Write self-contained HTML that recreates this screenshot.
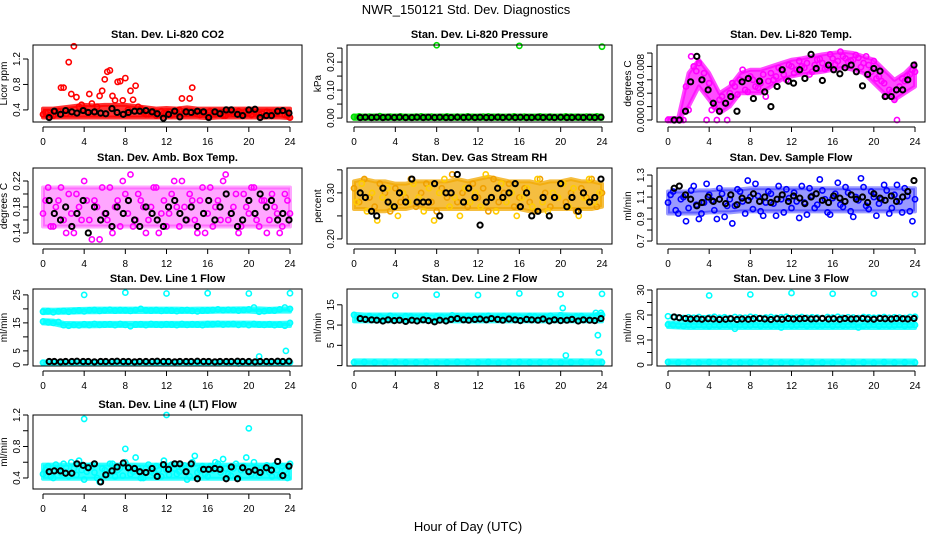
<!DOCTYPE html>
<html><head><meta charset="utf-8"><style>
html,body{margin:0;padding:0;background:#fff;}
svg{display:block;font-family:"Liberation Sans",sans-serif;}
</style></head><body>
<svg id="chart" width="936" height="540" viewBox="0 0 936 540">
<rect x="0" y="0" width="936" height="540" fill="#fff"/>
<text x="466" y="14" text-anchor="middle" font-size="13">NWR_150121  Std. Dev. Diagnostics</text>
<text x="468" y="531" text-anchor="middle" font-size="13">Hour of Day (UTC)</text>
</svg>
<script>
// ---- hours (categories) ----
const H49=[0,0.5,1,1.5,2,2.5,3,3.5,4,4.5,5,5.5,6,6.5,7,7.5,8,8.5,9,9.5,10,10.5,11,11.5,12,12.5,13,13.5,14,14.5,15,15.5,16,16.5,17,17.5,18,18.5,19,19.5,20,20.5,21,21.5,22,22.5,23,23.5,24];
const H48=[0.25,0.75,1.25,1.75,2.25,2.75,3.25,3.75,4.25,4.75,5.25,5.75,6.25,6.75,7.25,7.75,8.25,8.75,9.25,9.75,10.25,10.75,11.25,11.75,12.25,12.75,13.25,13.75,14.25,14.75,15.25,15.75,16.25,16.75,17.25,17.75,18.25,18.75,19.25,19.75,20.25,20.75,21.25,21.75,22.25,22.75,23.25,23.75];
const H25=[0,1,2,3,4,5,6,7,8,9,10,11,12,13,14,15,16,17,18,19,20,21,22,23,24];
const BH=[0.6,1.1,1.7,2.2,2.8,3.3,3.9,4.4,5.0,5.6,6.1,6.7,7.2,7.8,8.3,8.9,9.4,10.0,10.6,11.1,11.7,12.2,12.8,13.3,13.9,14.4,15.0,15.6,16.1,16.7,17.2,17.8,18.3,18.9,19.4,20.0,20.6,21.1,21.7,22.2,22.8,23.3,23.9];
const xTicks=[0,4,8,12,16,20,24];

// ---- P1 CO2 ----
const co2A=[0.33,0.36,0.31,0.38,0.75,1.15,1.40,0.45,0.40,0.65,0.36,0.62,0.88,1.02,0.55,0.85,0.90,0.70,0.78,0.42,0.33,0.36,0.31,0.38,0.35,0.32,0.37,0.58,0.34,0.75,0.33,0.36,0.30,0.37,0.35,0.31,0.36,0.34,0.38,0.32,0.35,0.37,0.33,0.30,0.36,0.34,0.38,0.32,0.28];
const co2B=[0.36,0.32,0.38,0.75,0.34,0.65,0.60,0.48,0.37,0.50,0.45,0.70,1.00,0.62,0.84,0.55,0.40,0.56,0.45,0.36,0.33,0.38,0.32,0.35,0.37,0.33,0.40,0.34,0.58,0.36,0.32,0.35,0.38,0.33,0.36,0.31,0.37,0.34,0.35,0.38,0.32,0.36,0.34,0.37,0.33,0.35,0.38,0.31];
const co2Lo=[0.28,0.28,0.28,0.28,0.28,0.28,0.28,0.28,0.28,0.28,0.28,0.28,0.28,0.28,0.28,0.28,0.27,0.28,0.28,0.28,0.28,0.28,0.28,0.28,0.27];
const co2Hi=[0.42,0.42,0.44,0.46,0.48,0.47,0.48,0.48,0.48,0.46,0.44,0.42,0.43,0.42,0.44,0.42,0.42,0.42,0.42,0.42,0.42,0.42,0.42,0.42,0.42];
const co2K=[0.28,0.38,0.33,0.39,0.37,0.35,0.39,0.36,0.37,0.35,0.34,0.42,0.36,0.33,0.36,0.38,0.38,0.39,0.37,0.34,0.27,0.33,0.38,0.29,0.37,0.36,0.38,0.37,0.28,0.37,0.34,0.40,0.40,0.33,0.31,0.40,0.41,0.28,0.31,0.31,0.38,0.39,0.35];
const co2Ticks=[0.4,0.8,1.2];
// ---- P2 Pressure ----
const prA=[0.004,0.006,0.003,0.005,0.004,0.007,0.003,0.005,0.004,0.006,0.004,0.003,0.005,0.006,0.004,0.005,0.260,0.004,0.006,0.003,0.005,0.004,0.006,0.004,0.003,0.005,0.006,0.004,0.005,0.003,0.004,0.006,0.258,0.005,0.004,0.003,0.006,0.004,0.005,0.003,0.004,0.006,0.005,0.004,0.003,0.005,0.004,0.006,0.255];
const prLo=[-0.003,-0.003,-0.003,-0.003,-0.003,-0.003,-0.003,-0.003,-0.003,-0.003,-0.003,-0.003,-0.003,-0.003,-0.003,-0.003,-0.003,-0.003,-0.003,-0.003,-0.003,-0.003,-0.003,-0.003,-0.003];
const prHi=[0.009,0.009,0.009,0.009,0.009,0.009,0.009,0.009,0.009,0.009,0.009,0.009,0.009,0.009,0.009,0.009,0.009,0.009,0.009,0.009,0.009,0.009,0.009,0.009,0.009];
const prK=[0.002,0.003,0.002,0.003,0.002,0.003,0.002,0.003,0.002,0.002,0.003,0.002,0.003,0.002,0.003,0.002,0.002,0.003,0.002,0.003,0.002,0.003,0.002,0.002,0.003,0.002,0.003,0.002,0.003,0.002,0.002,0.003,0.002,0.003,0.002,0.003,0.002,0.002,0.003,0.002,0.003,0.002,0.003];
const prTicks=[0.00,0.05,0.10,0.15,0.20,0.25];
const prLabels=["0.00","","0.10","","0.20",""];
// ---- P3 Temp ----
const tA=[0,0,0,0,0.0015,0.008,0.0085,0.007,0.0055,0.002,0.003,0.0025,0.004,0.005,0.006,0.0045,0.0065,0.005,0.0055,0.0035,0.007,0.0065,0.0075,0.006,0.008,0.0075,0.008,0.0085,0.0072,0.009,0.0085,0.0078,0.0092,0.0088,0.0095,0.0087,0.009,0.0093,0.0085,0.0082,0.0088,0.0065,0.0055,0.0045,0.003,0.005,0.0058,0.0068,0.0072];
const tB=[0,0,0,0.005,0.0095,0.0073,0.006,0,0.0015,0,0.0035,0,0.0055,0.0038,0.0075,0.0042,0.006,0.0048,0.0068,0.0058,0.006,0.0078,0.0068,0.0082,0.007,0.0088,0.0078,0.0068,0.0082,0.0091,0.0076,0.0098,0.0083,0.0102,0.0092,0.0089,0.0097,0.0079,0.0095,0.0072,0.0062,0.0058,0.0036,0.0042,0,0.0062,0.0066,0.0075];
const tLo=[0,0,0.002,0.005,0.003,0.001,0.002,0.004,0.004,0.004,0.005,0.006,0.0065,0.0068,0.007,0.0072,0.0075,0.0078,0.0075,0.007,0.0055,0.004,0.003,0.004,0.005];
const tHi=[0.0003,0.0003,0.007,0.009,0.007,0.004,0.005,0.007,0.0075,0.0075,0.008,0.0085,0.009,0.0092,0.0095,0.0098,0.01,0.0102,0.01,0.0095,0.009,0.0075,0.006,0.007,0.0085];
const tK=[0,0,0.0013,0.0057,0.0095,0.006,0.0045,0.0025,0.0013,0.0025,0.0035,0.0013,0.0057,0.0062,0.0032,0.0058,0.0042,0.002,0.005,0.0075,0.0058,0.0055,0.0075,0.0062,0.0098,0.0077,0.0059,0.0082,0.0075,0.0069,0.0078,0.0082,0.0072,0.0051,0.0068,0.0077,0.0073,0.0035,0.0035,0.0045,0.0045,0.006,0.0082];
const tTicks=[0,0.002,0.004,0.006,0.008,0.010];
const tLabels=["0.000","","0.004","","0.008",""];
// ---- P4 Amb box ----
const abA=[0.17,0.21,0.15,0.19,0.16,0.20,0.14,0.18,0.22,0.16,0.19,0.13,0.17,0.21,0.18,0.15,0.20,0.23,0.16,0.19,0.14,0.18,0.21,0.17,0.15,0.20,0.18,0.22,0.16,0.19,0.14,0.21,0.17,0.15,0.19,0.22,0.16,0.18,0.14,0.20,0.17,0.21,0.15,0.19,0.16,0.18,0.14,0.20,0.17];
const abB=[0.19,0.15,0.18,0.21,0.14,0.17,0.20,0.16,0.19,0.13,0.18,0.21,0.16,0.14,0.19,0.22,0.17,0.15,0.20,0.18,0.16,0.21,0.14,0.19,0.17,0.22,0.15,0.18,0.20,0.16,0.19,0.14,0.21,0.18,0.16,0.23,0.17,0.20,0.15,0.18,0.21,0.16,0.19,0.14,0.20,0.17,0.15,0.19];
const abLo=[0.15,0.15,0.15,0.15,0.15,0.15,0.15,0.15,0.15,0.15,0.15,0.15,0.15,0.15,0.15,0.15,0.15,0.15,0.15,0.15,0.15,0.15,0.15,0.15,0.15];
const abHi=[0.21,0.21,0.21,0.21,0.21,0.21,0.21,0.21,0.21,0.21,0.21,0.21,0.21,0.21,0.21,0.21,0.21,0.21,0.21,0.21,0.21,0.21,0.21,0.21,0.21];
const abK=[0.19,0.17,0.16,0.18,0.15,0.17,0.19,0.14,0.18,0.16,0.17,0.15,0.18,0.17,0.19,0.16,0.15,0.18,0.17,0.16,0.15,0.18,0.19,0.17,0.16,0.18,0.15,0.17,0.19,0.16,0.18,0.20,0.17,0.15,0.16,0.19,0.17,0.20,0.18,0.19,0.16,0.17,0.16];
const abTicks=[0.14,0.16,0.18,0.20,0.22];
const abLabels=["0.14","","0.18","","0.22"];
// ---- P5 RH ----
const rhA=[0.31,0.28,0.33,0.29,0.27,0.32,0.30,0.26,0.31,0.28,0.29,0.33,0.27,0.30,0.32,0.28,0.26,0.31,0.29,0.34,0.28,0.30,0.27,0.32,0.29,0.31,0.26,0.33,0.28,0.30,0.32,0.27,0.29,0.31,0.28,0.26,0.33,0.30,0.27,0.29,0.32,0.28,0.30,0.26,0.31,0.29,0.33,0.27,0.30];
const rhB=[0.28,0.32,0.26,0.30,0.24,0.29,0.31,0.27,0.25,0.30,0.28,0.32,0.29,0.26,0.31,0.24,0.30,0.33,0.27,0.29,0.25,0.31,0.28,0.30,0.27,0.34,0.29,0.26,0.32,0.28,0.30,0.25,0.29,0.31,0.27,0.33,0.28,0.26,0.30,0.29,0.32,0.27,0.31,0.25,0.29,0.33,0.28,0.30];
const rhLo=[0.265,0.265,0.26,0.26,0.265,0.265,0.27,0.265,0.265,0.265,0.265,0.265,0.265,0.265,0.265,0.265,0.265,0.26,0.26,0.265,0.265,0.265,0.265,0.265,0.27];
const rhHi=[0.325,0.33,0.325,0.325,0.32,0.32,0.325,0.325,0.325,0.325,0.33,0.325,0.33,0.335,0.33,0.325,0.325,0.325,0.32,0.325,0.325,0.33,0.325,0.325,0.32];
const rhK=[0.30,0.29,0.26,0.25,0.31,0.28,0.27,0.30,0.28,0.33,0.28,0.28,0.28,0.32,0.25,0.30,0.30,0.34,0.28,0.31,0.29,0.23,0.28,0.29,0.31,0.29,0.30,0.32,0.27,0.30,0.25,0.26,0.29,0.25,0.29,0.32,0.27,0.29,0.26,0.30,0.28,0.29,0.33];
const rhTicks=[0.20,0.25,0.30,0.35];
const rhLabels=["0.20","","0.30",""];
// ---- P6 Sample flow ----
const sfA=[1.05,1.15,0.95,1.10,1.00,1.20,0.90,1.05,1.12,0.98,1.18,0.92,1.08,1.02,1.15,0.95,1.10,1.22,0.97,1.05,1.13,0.93,1.08,1.17,1.00,1.06,1.20,0.94,1.11,1.03,1.16,0.96,1.09,1.23,1.01,1.14,0.92,1.07,1.19,0.99,1.10,1.04,1.21,0.95,1.12,1.06,1.18,0.97,1.08];
const sfB=[1.12,0.98,1.08,0.88,1.16,1.03,0.95,1.22,1.07,0.90,1.13,1.02,0.86,1.17,1.06,1.25,0.99,1.11,0.93,1.15,1.04,1.20,0.96,1.09,1.14,0.91,1.05,1.18,1.00,1.26,1.08,0.94,1.13,1.03,1.19,0.97,1.10,1.27,1.02,1.15,0.93,1.08,1.16,1.00,1.21,0.96,1.11,0.88];
const sfLo=[0.95,0.95,0.95,0.95,0.96,0.96,0.96,0.97,0.97,0.97,0.97,0.97,0.97,0.97,0.97,0.97,0.97,0.97,0.97,0.97,0.97,0.97,0.97,0.97,0.97];
const sfHi=[1.15,1.15,1.15,1.16,1.16,1.17,1.17,1.17,1.18,1.18,1.18,1.18,1.18,1.18,1.18,1.18,1.18,1.18,1.18,1.18,1.18,1.18,1.18,1.18,1.18];
const sfK=[1.18,1.20,1.12,1.08,1.02,1.05,1.10,1.06,1.08,1.04,1.12,1.03,1.09,1.07,1.13,1.06,1.10,1.05,1.08,1.12,1.06,1.11,1.09,1.04,1.10,1.13,1.07,1.05,1.11,1.09,1.06,1.12,1.08,1.10,1.05,1.13,1.09,1.07,1.11,1.06,1.10,1.15,1.25];
const sfTicks=[0.7,0.8,0.9,1.0,1.1,1.2,1.3];
const sfLabels=["0.7","","0.9","","1.1","","1.3"];
// ---- P7 Line 1 ----
const l1Up=[19.0,19.2,18.8,19.1,19.3,19.0,19.2,19.4,19.1,19.5,19.6,19.3,19.5,19.7,19.4,19.6,19.5,19.3,19.6,20.0,19.5,19.4,19.6,19.3,19.5,19.4,19.2,19.5,19.6,19.3,19.1,19.4,19.5,19.6,19.8,19.5,19.7,19.6,19.4,19.6,19.8,20.5,19.0,19.2,19.5,19.4,19.8,20.5,20.0];
const l1Mid=[15.5,15.2,15.0,15.3,14.2,14.0,14.3,14.1,14.5,14.2,14.6,14.3,14.4,14.5,14.2,14.6,14.3,13.8,14.4,14.5,14.2,14.6,14.4,14.3,14.5,14.4,14.2,14.6,14.3,14.5,14.4,14.2,14.6,14.5,14.7,14.4,14.5,14.6,14.3,14.5,14.2,14.6,14.4,14.3,14.5,14.2,14.4,14.0,15.0];
const l1UpLo=[18.5,18.6,18.6,18.7,18.8,18.8,18.9,18.9,18.9,18.9,18.9,18.9,18.9,18.9,18.9,18.9,18.9,19.0,19.0,19.0,19.0,18.8,18.9,19.0,19.0];
const l1UpHi=[19.8,19.7,19.8,19.9,20.0,20.1,20.1,20.1,20.1,20.1,20.1,20.1,20.1,20.1,20.0,20.1,20.1,20.1,20.1,20.2,20.2,20.2,20.0,20.2,20.2];
const l1MidLo=[14.8,14.6,13.8,13.8,13.8,13.8,13.9,13.9,13.9,13.9,13.9,13.9,13.9,13.9,13.9,13.9,13.9,14.0,14.0,14.0,14.0,13.9,13.9,13.9,13.9];
const l1MidHi=[16.0,15.8,15.0,14.9,14.9,15.0,15.0,15.0,15.0,15.0,15.0,15.0,15.0,15.0,15.0,15.0,15.1,15.1,15.1,15.1,15.1,15.0,15.0,15.0,15.1];
const l1LowLo=[0.4,0.4,0.4,0.4,0.4,0.4,0.4,0.4,0.4,0.4,0.4,0.4,0.4,0.4,0.4,0.4,0.4,0.4,0.4,0.4,0.4,0.4,0.4,0.4,0.4];
const l1LowHi=[1.2,1.2,1.2,1.2,1.2,1.2,1.2,1.2,1.2,1.2,1.2,1.2,1.2,1.2,1.2,1.2,1.2,1.2,1.2,1.2,1.2,1.2,1.2,1.2,1.2];
const l1Low=[0.8,0.9,0.7,0.8,0.9,0.8,0.7,0.9,0.8,0.8,0.9,0.7,0.8,0.9,0.8,0.7,0.8,0.9,0.8,0.5,0.8,3.0,0.9,0.8,0.9];
const l1K=[1.2,1.2,1.1,1.2,1.2,1.3,1.2,1.2,1.1,1.2,1.2,1.2,1.3,1.2,1.2,1.1,1.2,1.2,1.2,1.3,1.2,1.2,1.1,1.2,1.2,1.2,1.3,1.2,1.2,1.1,1.2,1.2,1.2,1.3,1.2,1.2,1.1,1.2,1.2,1.2,1.3,1.2,1.3];
const l1OutH=[4,8,12,16,20,23.6,24];
const l1Out=[25.0,25.8,25.5,25.6,25.5,5.0,25.6];
const l1Ticks=[0,5,10,15,20,25];
const l1Labels=["0","5","","15","","25"];
// ---- P8 Line 2 ----
const l2Up=[12.5,12.0,11.8,12.2,11.9,12.1,11.7,12.3,12.0,11.8,12.2,12.1,11.9,12.0,12.3,11.8,12.1,12.0,11.9,12.4,12.1,11.8,12.2,12.0,11.9,12.1,12.3,11.8,12.0,12.2,11.9,12.1,12.0,11.8,12.2,12.1,11.9,12.0,12.3,11.8,12.4,12.0,11.9,12.1,12.2,11.8,12.0,12.3,12.5];
const l2UpLo=[10.9,10.9,10.9,10.9,10.9,10.9,10.9,10.9,10.9,10.9,10.9,10.9,10.9,10.9,10.9,10.9,10.9,10.9,10.9,10.9,10.9,10.9,10.9,10.9,10.9];
const l2UpHi=[12.8,12.6,12.6,12.6,12.6,12.6,12.6,12.6,12.6,12.6,12.6,12.6,12.6,12.6,12.6,12.6,12.6,12.6,12.6,12.6,12.7,12.6,12.6,12.6,12.8];
const l2Low=[0.8,0.9,0.8,0.7,0.9,0.8,0.8,0.9,0.7,0.8,0.9,0.8,0.8,0.9,0.7,0.8,0.9,0.8,0.8,0.9,0.7,0.8,0.9,0.8,0.8];
const l2LowLo=[0.3,0.3,0.3,0.3,0.3,0.3,0.3,0.3,0.3,0.3,0.3,0.3,0.3,0.3,0.3,0.3,0.3,0.3,0.3,0.3,0.3,0.3,0.3,0.3,0.3];
const l2LowHi=[1.3,1.3,1.3,1.3,1.3,1.3,1.3,1.3,1.3,1.3,1.3,1.3,1.3,1.3,1.3,1.3,1.3,1.3,1.3,1.3,1.3,1.3,1.3,1.3,1.3];
const l2K=[11.6,11.4,11.3,11.2,11.0,11.3,11.1,11.2,10.9,11.2,11.0,11.3,11.1,10.8,11.2,11.0,11.4,11.6,11.3,11.2,11.4,11.5,11.3,11.6,11.4,11.2,11.5,11.3,11.1,11.4,11.3,11.2,11.5,11.0,11.3,11.1,11.2,11.4,11.0,11.3,11.2,11.1,11.6];
const l2OutH=[4,8,12,16,20,20.2,20.5,23.4,23.6,23.7,23.9,24];
const l2Out=[17.3,17.5,17.4,17.8,17.6,14.2,2.5,13.0,7.5,3.2,13.0,17.7];
const l2Ticks=[0,5,10,15];
const l2Labels=["","5","10","15"];
// ---- P9 Line 3 ----
const l3Up=[19.5,19.2,19.0,18.8,19.1,18.9,19.2,18.7,19.0,19.3,18.9,19.1,18.8,19.2,19.0,18.9,19.3,19.1,18.8,19.0,19.2,18.9,19.1,19.3,18.8,19.0,19.2,18.9,19.1,19.0,18.8,19.2,19.0,19.3,18.9,19.1,19.0,18.8,19.2,19.1,18.9,19.0,19.2,18.9,19.1,19.0,18.8,19.2,19.3];
const l3Mid=[16.2,16.0,15.8,15.6,15.9,15.7,16.0,15.8,15.5,15.9,15.7,16.0,15.8,14.5,15.9,15.7,15.8,16.0,15.6,15.9,15.7,15.8,15.0,15.9,15.7,15.8,16.0,15.6,15.9,15.7,15.8,16.0,15.6,15.9,15.7,15.8,15.9,15.0,15.7,15.8,16.0,15.6,15.9,15.7,15.8,16.0,15.6,15.9,16.0];
const l3MidLo=[15.2,15.0,14.8,14.8,14.8,14.8,14.8,14.8,14.8,14.8,14.8,14.8,14.8,14.8,14.8,14.8,14.8,14.8,14.8,14.8,14.8,14.8,14.8,14.8,14.8];
const l3MidHi=[17.0,16.8,16.6,16.6,16.6,16.6,16.6,16.6,16.6,16.6,16.6,16.6,16.6,16.6,16.6,16.6,16.6,16.6,16.6,16.6,16.6,16.6,16.6,16.6,16.6];
const l3Low=[1.2,1.0,1.1,0.9,1.2,1.0,1.1,0.9,1.0,1.2,1.1,0.9,1.0,1.2,1.1,1.0,0.9,1.2,1.0,1.1,0.9,1.2,1.0,1.1,1.0];
const l3LowLo=[0.4,0.4,0.4,0.4,0.4,0.4,0.4,0.4,0.4,0.4,0.4,0.4,0.4,0.4,0.4,0.4,0.4,0.4,0.4,0.4,0.4,0.4,0.4,0.4,0.4];
const l3LowHi=[1.8,1.8,1.8,1.8,1.8,1.8,1.8,1.8,1.8,1.8,1.8,1.8,1.8,1.8,1.8,1.8,1.8,1.8,1.8,1.8,1.8,1.8,1.8,1.8,1.8];
const l3K=[19.2,18.9,18.6,18.4,18.5,18.3,18.5,18.4,18.2,18.3,18.5,18.2,18.4,18.3,18.5,18.6,18.4,18.2,18.5,18.3,18.6,18.4,18.5,18.6,18.4,18.5,18.6,18.4,18.5,18.3,18.6,18.4,18.5,18.6,18.4,18.3,18.6,18.5,18.4,18.6,18.5,18.4,18.6];
const l3OutH=[4,8,12,16,20,24];
const l3Out=[27.8,28.2,28.8,28.5,28.6,28.3];
const l3Ticks=[0,5,10,15,20,25,30];
const l3Labels=["0","","10","","20","","30"];
// ---- P10 Line 4 ----
const l4A=[0.45,0.55,0.40,0.50,0.58,0.42,0.52,0.62,0.38,0.55,0.47,0.35,0.50,0.58,0.42,0.53,0.60,0.45,0.66,0.40,0.52,0.48,0.55,0.42,0.50,0.57,0.45,0.53,0.38,0.60,0.47,0.55,0.42,0.50,0.58,0.64,0.45,0.52,0.40,0.55,0.48,0.60,0.43,0.52,0.47,0.56,0.42,0.50,0.58];
const l4B=[0.50,0.42,0.57,0.46,0.53,0.60,0.44,0.50,0.48,0.56,0.40,0.52,0.45,0.58,0.50,0.43,0.55,0.48,0.52,0.40,0.57,0.46,0.50,0.62,0.44,0.52,0.48,0.56,0.42,0.68,0.50,0.45,0.55,0.60,0.47,0.52,0.43,0.58,0.50,0.66,0.45,0.53,0.48,0.56,0.42,0.50,0.55,0.40];
const l4Lo=[0.39,0.39,0.39,0.39,0.39,0.39,0.39,0.39,0.39,0.39,0.39,0.39,0.39,0.39,0.39,0.39,0.39,0.39,0.39,0.39,0.39,0.39,0.39,0.39,0.39];
const l4Hi=[0.57,0.57,0.57,0.57,0.57,0.57,0.57,0.57,0.57,0.57,0.57,0.57,0.57,0.57,0.57,0.57,0.57,0.57,0.57,0.57,0.57,0.57,0.57,0.57,0.57];
const l4K=[0.48,0.49,0.49,0.46,0.46,0.58,0.56,0.53,0.58,0.35,0.44,0.49,0.54,0.59,0.53,0.52,0.48,0.47,0.52,0.42,0.57,0.51,0.58,0.58,0.48,0.58,0.39,0.51,0.51,0.52,0.51,0.39,0.54,0.39,0.53,0.48,0.50,0.47,0.53,0.50,0.61,0.43,0.55];
const l4OutH=[4,8,12,20];
const l4Out=[1.15,0.77,1.20,1.03];
const l4Ticks=[0.4,0.6,0.8,1.0,1.2];
const l4Labels=["0.4","","0.8","","1.2"];

const NS="http://www.w3.org/2000/svg";
const svg=document.getElementById('chart');
function mk(tag,attrs,parent){const e=document.createElementNS(NS,tag);for(const k in attrs)e.setAttribute(k,attrs[k]);parent.appendChild(e);return e;}

const COLS=[{x0:43,x24:290,l:33,r:302},{x0:354,x24:602,l:347,r:612},{x0:668,x24:915,l:657,r:925}];
const ROWS=[{t:45,b:122},{t:168,b:244},{t:289,b:366},{t:415,b:489}];

function panel(p){
  const c=COLS[p.col],rw=ROWS[p.row];
  const g=mk('g',{},svg);
  
  
  const xs=h=>c.x0+(c.x24-c.x0)*h/24;
  const ys=v=>rw.b-(v-p.ymin)/(p.ymax-p.ymin)*(rw.b-rw.t);
  const tt=mk('text',{x:(c.l+c.r)/2,y:rw.t-7,'text-anchor':'middle','font-size':11,'font-weight':'bold'},g);
  tt.textContent=p.title;
  
  
  const xa=mk('g',{},g);
  
  
  mk('line',{x1:xs(0),x2:xs(24),y1:rw.b+5,y2:rw.b+5,stroke:'#000'},xa);
  xTicks.forEach(t=>{
    mk('line',{x1:xs(t),x2:xs(t),y1:rw.b+5,y2:rw.b+10,stroke:'#000'},xa);
    const tx=mk('text',{x:xs(t),y:rw.b+23,'text-anchor':'middle','font-size':10},xa);
    tx.textContent=String(t);
    
    
  });
  const ya=mk('g',{},g);
  
  
  const ax=c.l-5;
  mk('line',{x1:ax,x2:ax,y1:ys(p.ticks[0]),y2:ys(p.ticks[p.ticks.length-1]),stroke:'#000'},ya);
  p.ticks.forEach((t,i)=>{
    const y=ys(t);
    mk('line',{x1:ax,x2:ax-5,y1:y,y2:y,stroke:'#000'},ya);
    const lab=p.labels?p.labels[i]:String(t);
    if(lab){
      const tx=mk('text',{x:ax-8,y:y,'text-anchor':'middle','font-size':10,transform:`rotate(-90 ${ax-8} ${y})`},ya);
      tx.textContent=lab;
      
      
    }
  });
  const yl=mk('text',{x:c.l-26,y:(rw.t+rw.b)/2,'text-anchor':'middle','font-size':10,transform:`rotate(-90 ${c.l-26} ${(rw.t+rw.b)/2})`},g);
  yl.textContent=p.ylab;
  
  
  (p.bands||[]).forEach(b=>{
    let d='';
    H25.forEach((h,i)=>{d+=(i?'L':'M')+xs(h)+','+ys(b.hi[i]);});
    for(let i=H25.length-1;i>=0;i--){d+='L'+xs(H25[i])+','+ys(b.lo[i]);}
    d+='Z';
    const op=b.op||0.8;
    const pa=mk('path',{d:d,fill:b.color,'fill-opacity':op,stroke:b.color,'stroke-width':4,'stroke-opacity':op,'stroke-linejoin':'round'},g);
    
    
  });
  p.series.forEach(s=>{
    const sg=mk('g',{fill:'none',stroke:s.color,'stroke-width':s.w||1.6},g);
    
    
    s.y.forEach((v,i)=>{
      const cc=mk('circle',{cx:xs(s.x[i]),cy:ys(v),r:2.6},sg);
      
      
    });
  });
  const box=mk('rect',{x:c.l,y:rw.t,width:c.r-c.l,height:rw.b-rw.t,fill:'none',stroke:'#000','stroke-width':1},g);
  
  
}

panel({name:'panel-co2',col:0,row:0,title:'Stan. Dev. Li-820 CO2',ylab:'Licor ppm',ymin:0.21,ymax:1.42,ticks:co2Ticks,labels:["0.4","0.8","1.2"],
 bands:[{name:'co2-cloud',lo:co2Lo,hi:co2Hi,color:'#ff0000'}],
 series:[{name:'co2-series-a',x:H49,y:co2A,color:'#ff0000'},{name:'co2-series-b',x:H48,y:co2B,color:'#ff0000'},{name:'co2-black',x:BH,y:co2K,color:'#000',w:2}]});
panel({name:'panel-pressure',col:1,row:0,title:'Stan. Dev. Li-820 Pressure',ylab:'kPa',ymin:-0.014,ymax:0.261,ticks:prTicks,labels:prLabels,
 bands:[{name:'pressure-cloud',lo:prLo,hi:prHi,color:'#00dd00'}],
 series:[{name:'pressure-green',x:H49,y:prA,color:'#00dd00'},{name:'pressure-black',x:BH,y:prK,color:'#000',w:2}]});
panel({name:'panel-temp',col:2,row:0,title:'Stan. Dev. Li-820 Temp.',ylab:'degrees C',ymin:-0.0003,ymax:0.0112,ticks:tTicks,labels:tLabels,
 bands:[{name:'temp-cloud',lo:tLo,hi:tHi,color:'#ff00ff',op:0.7}],
 series:[{name:'temp-series-a',x:H49,y:tA,color:'#ff00ff'},{name:'temp-series-b',x:H48,y:tB,color:'#ff00ff'},{name:'temp-black',x:BH,y:tK,color:'#000',w:2}]});
panel({name:'panel-ambbox',col:0,row:1,title:'Stan. Dev. Amb. Box Temp.',ylab:'degrees C',ymin:0.123,ymax:0.24,ticks:abTicks,labels:abLabels,
 bands:[{name:'ambbox-cloud',lo:abLo,hi:abHi,color:'#ff00ff',op:0.35}],
 series:[{name:'ambbox-series-a',x:H49,y:abA,color:'#ff00ff'},{name:'ambbox-series-b',x:H48,y:abB,color:'#ff00ff'},{name:'ambbox-black',x:BH,y:abK,color:'#000',w:2}]});
panel({name:'panel-rh',col:1,row:1,title:'Stan. Dev. Gas Stream RH',ylab:'percent',ymin:0.189,ymax:0.354,ticks:rhTicks,labels:rhLabels,
 bands:[{name:'rh-cloud',lo:rhLo,hi:rhHi,color:'#f2a800',op:0.75}],
 series:[{name:'rh-series-a',x:H49,y:rhA,color:'#f0a000'},{name:'rh-series-b',x:H48,y:rhB,color:'#ffcc00'},{name:'rh-black',x:BH,y:rhK,color:'#000',w:2}]});
panel({name:'panel-sampleflow',col:2,row:1,title:'Stan. Dev. Sample Flow',ylab:'ml/min',ymin:0.673,ymax:1.364,ticks:sfTicks,labels:sfLabels,
 bands:[{name:'sampleflow-cloud',lo:sfLo,hi:sfHi,color:'#0000ff',op:0.4}],
 series:[{name:'sampleflow-series-a',x:H49,y:sfA,color:'#0000ff'},{name:'sampleflow-series-b',x:H48,y:sfB,color:'#0000ff'},{name:'sampleflow-black',x:BH,y:sfK,color:'#000',w:2}]});
panel({name:'panel-line1',col:0,row:2,title:'Stan. Dev. Line 1 Flow',ylab:'ml/min',ymin:-0.4,ymax:27.1,ticks:l1Ticks,labels:l1Labels,
 bands:[{name:'line1-upper-cloud',lo:l1UpLo,hi:l1UpHi,color:'#00ffff'},{name:'line1-middle-cloud',lo:l1MidLo,hi:l1MidHi,color:'#00ffff'},{name:'line1-low-cloud',lo:l1LowLo,hi:l1LowHi,color:'#00ffff'}],
 series:[{name:'line1-upper',x:H49,y:l1Up,color:'#00ffff'},{name:'line1-middle',x:H49,y:l1Mid,color:'#00ffff'},{name:'line1-low',x:H25,y:l1Low,color:'#00ffff'},{name:'line1-outliers',x:l1OutH,y:l1Out,color:'#00ffff'},{name:'line1-black',x:BH,y:l1K,color:'#000',w:2}]});
panel({name:'panel-line2',col:1,row:2,title:'Stan. Dev. Line 2 Flow',ylab:'ml/min',ymin:-0.1,ymax:18.9,ticks:l2Ticks,labels:l2Labels,
 bands:[{name:'line2-upper-cloud',lo:l2UpLo,hi:l2UpHi,color:'#00ffff'},{name:'line2-low-cloud',lo:l2LowLo,hi:l2LowHi,color:'#00ffff'}],
 series:[{name:'line2-upper',x:H49,y:l2Up,color:'#00ffff'},{name:'line2-low',x:H25,y:l2Low,color:'#00ffff'},{name:'line2-outliers',x:l2OutH,y:l2Out,color:'#00ffff'},{name:'line2-black',x:BH,y:l2K,color:'#000',w:2}]});
panel({name:'panel-line3',col:2,row:2,title:'Stan. Dev. Line 3 Flow',ylab:'ml/min',ymin:-0.4,ymax:30.4,ticks:l3Ticks,labels:l3Labels,
 bands:[{name:'line3-middle-cloud',lo:l3MidLo,hi:l3MidHi,color:'#00ffff'},{name:'line3-low-cloud',lo:l3LowLo,hi:l3LowHi,color:'#00ffff'}],
 series:[{name:'line3-upper',x:H49,y:l3Up,color:'#00ffff'},{name:'line3-middle',x:H49,y:l3Mid,color:'#00ffff'},{name:'line3-low',x:H25,y:l3Low,color:'#00ffff'},{name:'line3-outliers',x:l3OutH,y:l3Out,color:'#00ffff'},{name:'line3-black',x:BH,y:l3K,color:'#000',w:2}]});
panel({name:'panel-line4',col:0,row:3,title:'Stan. Dev. Line 4 (LT) Flow',ylab:'ml/min',ymin:0.26,ymax:1.2,ticks:l4Ticks,labels:l4Labels,
 bands:[{name:'line4-cloud',lo:l4Lo,hi:l4Hi,color:'#00ffff'}],
 series:[{name:'line4-series-a',x:H49,y:l4A,color:'#00ffff'},{name:'line4-series-b',x:H48,y:l4B,color:'#00ffff'},{name:'line4-outliers',x:l4OutH,y:l4Out,color:'#00ffff'},{name:'line4-black',x:BH,y:l4K,color:'#000',w:2}]});
</script>
</body></html>
